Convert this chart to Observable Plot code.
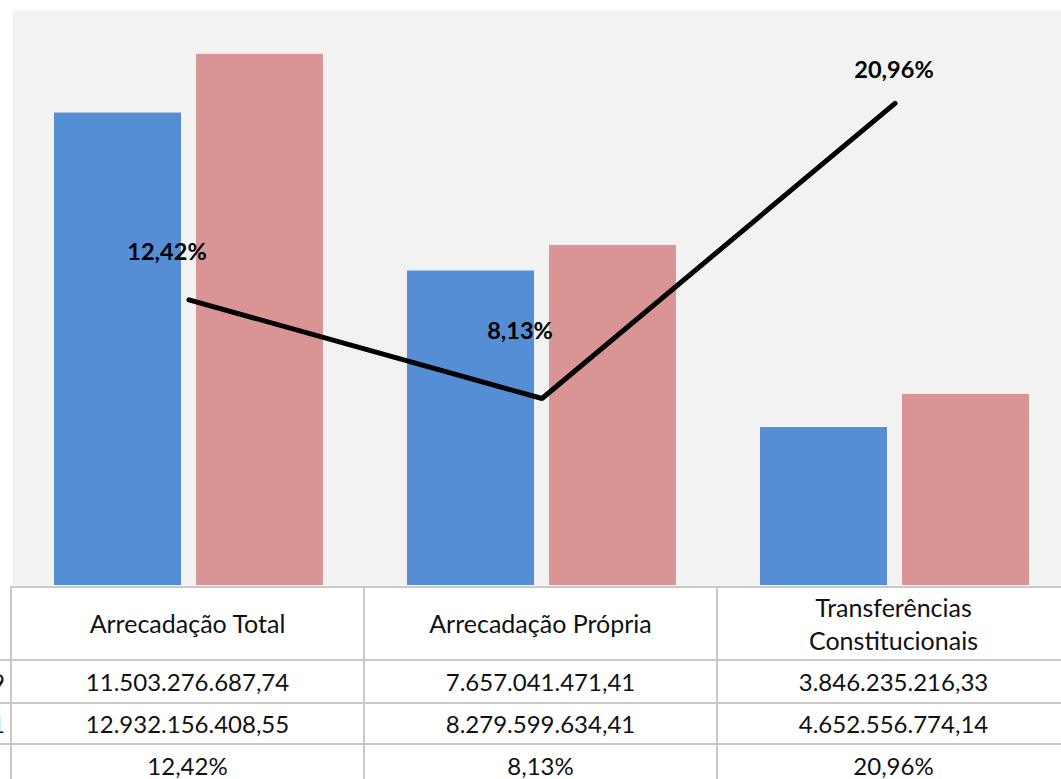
<!DOCTYPE html>
<html>
<head>
<meta charset="utf-8">
<script src="https://cdn.jsdelivr.net/npm/d3@7"></script>
<script src="https://cdn.jsdelivr.net/npm/@observablehq/plot@0.6"></script>
<style>
  html, body { margin: 0; padding: 0; background: #ffffff; overflow: hidden; width: 1061px; height: 779px; }
  #wrap { position: relative; width: 1061px; height: 779px; overflow: hidden; font-family: Lato, "Open Sans", sans-serif; }
  #chart { position: absolute; left: 0; top: 0; }
  table { position: absolute; top: 586px; left: -69px; width: 1139px; border-collapse: collapse; table-layout: fixed; color: #111; }
  td { border: 2px solid #c9c9c9; text-align: center; font-size: 24px; padding: 0; line-height: 33px; white-space: nowrap; overflow: hidden; }
  td.lab { text-align: right; padding-right: 5px; border-left: none; }
  tr.head td { height: 71px; font-size: 25px; }
  tr.head td.lab { border-top: none; }
  tr.r1 td { height: 41px; }
  tr.r2 td { height: 39px; }
  tr.r3 td { height: 41px; }
</style>
</head>
<body>
<div id="wrap">
  <div id="chart"></div>
  <table id="tbl"></table>
</div>
<script>
// ---- data ----
const categories = ["Arrecadação Total", "Arrecadação Própria", "Transferências Constitucionais"];
const headerLines = [["Arrecadação Total"], ["Arrecadação Própria"], ["Transferências", "Constitucionais"]];
const seriesNames = ["2019", "2021"];
const values2019 = [11503276687.74, 7657041471.41, 3846235216.33];
const values2021 = [12932156408.55, 8279599634.41, 4652556774.14];
const variationPct = [12.42, 8.13, 20.96];
const colors = ["#558ed5", "#d99594"];
const yMax = 14e9;      // primary axis max
const pctMax = 25;      // secondary axis max (%)

// ---- helpers ----
const fmtMoney = v => v.toLocaleString("pt-BR", {minimumFractionDigits: 2, maximumFractionDigits: 2});
const fmtPct = v => v.toLocaleString("pt-BR", {minimumFractionDigits: 2, maximumFractionDigits: 2}) + "%";

const rows2019 = categories.map((c, i) => ({category: c, value: values2019[i]}));
const rows2021 = categories.map((c, i) => ({category: c, value: values2021[i]}));
const rowsVar = categories.map((c, i) => ({category: c, pct: variationPct[i]}));

const labelOffsets = [[-22, -47], [-22, -67], [-1, -33]];

const chart = Plot.plot({
  width: 1061,
  height: 587,
  marginTop: 10,
  marginBottom: 2,
  marginLeft: 12,
  marginRight: 0,
  x: {type: "band", domain: categories, range: [10.75, 1071.25], paddingInner: 0.239, paddingOuter: 0.1195, axis: null},
  y: {domain: [0, yMax], axis: null},
  marks: [
    Plot.frame({fill: "#f2f2f2", stroke: "none"}),
    Plot.barY(rows2019, {x: "category", y: "value", fill: colors[0], insetRight: 142}),
    Plot.barY(rows2021, {x: "category", y: "value", fill: colors[1], insetLeft: 142}),
    Plot.line(rowsVar, {x: "category", y: d => d.pct / pctMax * yMax, stroke: "#000", strokeWidth: 5, strokeLinecap: "round", strokeLinejoin: "miter"}),
    ...rowsVar.map((r, i) => Plot.text([r], {
      x: "category", y: d => d.pct / pctMax * yMax, text: d => fmtPct(d.pct),
      dx: labelOffsets[i][0], dy: labelOffsets[i][1],
      fontSize: 23.5, fontWeight: "bold", fontFamily: "Lato, sans-serif", fill: "#000"
    }))
  ]
});
document.getElementById("chart").appendChild(chart);

// ---- data table ----
const tbl = document.getElementById("tbl");
const colgroup = document.createElement("colgroup");
[80, 353, 353, 353].forEach(w => { const c = document.createElement("col"); c.style.width = w + "px"; colgroup.appendChild(c); });
tbl.appendChild(colgroup);
function addRow(cls, label, cells) {
  const tr = document.createElement("tr");
  tr.className = cls;
  const l = document.createElement("td"); l.className = "lab"; l.textContent = label; tr.appendChild(l);
  cells.forEach(c => {
    const td = document.createElement("td");
    if (Array.isArray(c)) { td.innerHTML = c.join("<br>"); } else { td.textContent = c; }
    tr.appendChild(td);
  });
  tbl.appendChild(tr);
}
addRow("head", "", headerLines);
addRow("r1", seriesNames[0], values2019.map(fmtMoney));
addRow("r2", seriesNames[1], values2021.map(fmtMoney));
addRow("r3", "", variationPct.map(fmtPct));
</script>
</body>
</html>
